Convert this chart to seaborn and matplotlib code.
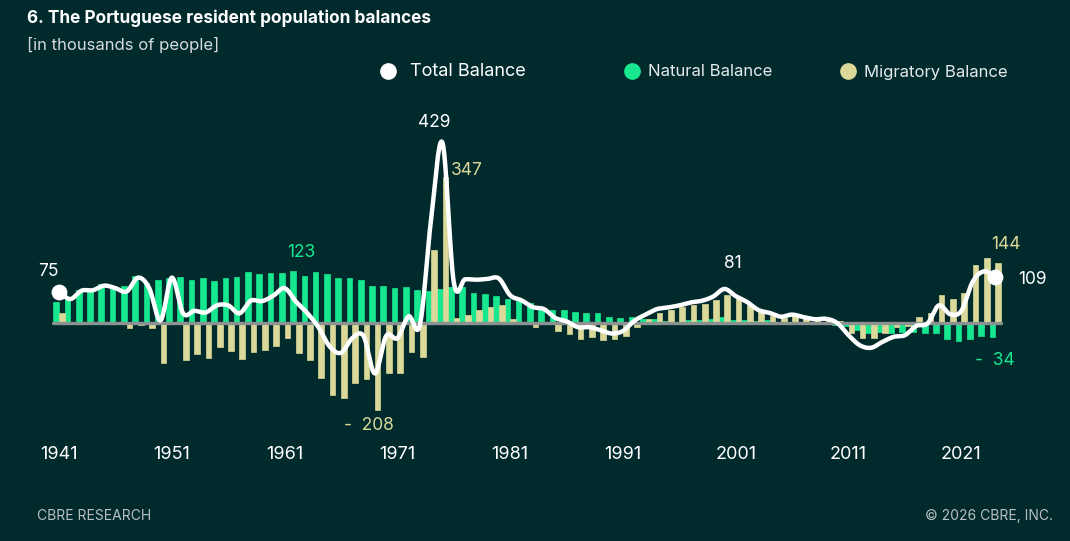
import numpy as np
import pandas as pd
import matplotlib
matplotlib.use("Agg")
import matplotlib.pyplot as plt
import seaborn as sns
from matplotlib.lines import Line2D

# Data (thousands of people)
years = list(range(1941, 2025))
natural = [50, 58, 78, 80, 92, 85, 88, 113, 96, 102,
           108, 110, 103, 108, 100, 108, 109, 121, 116, 119,
           119, 123, 113, 121, 116, 107, 106, 102, 88, 88,
           83, 85, 78, 76, 82, 86, 85, 72, 68, 64,
           57, 53, 48, 36, 30, 31, 27, 24, 23, 14,
           13, 14, 10, 9, 5, 3, 7, 7, 9, 15,
           8, 7, 4, 7, 2, 3, -1, 0, -3, -4,
           -6, -17, -24, -21, -23, -21, -22, -25, -25, -37,
           -43, -39, -32, -34]
migratory = [25, -1, -1, -2, -3, -2, -13, -5, -13, -96,
             0, -87, -74, -83, -58, -66, -86, -68, -64, -54,
             -36, -72, -89, -131, -172, -178, -142, -133, -208, -119,
             -119, -69, -82, 174, 347, 11, 19, 31, 37, 42,
             9, 1, -10, -3, -18, -27, -37, -34, -40, -39,
             -32, -9, 10, 24, 32, 39, 42, 46, 54, 66,
             56, 43, 27, 17, 13, 17, 15, 9, 13, 4,
             -23, -36, -35, -24, -10, -8, 15, 24, 67, 58,
             72, 137, 155, 143]
total = [75, 57, 77, 78, 89, 83, 75, 108, 83, 6,
         108, 23, 29, 25, 42, 42, 23, 53, 52, 65,
         83, 51, 24, -10, -56, -71, -36, -31, -120, -31,
         -36, 16, -4, 250, 429, 97, 104, 103, 105, 106,
         66, 54, 38, 33, 12, 4, -10, -10, -17, -25,
         -19, 5, 20, 33, 37, 42, 49, 53, 63, 81,
         64, 50, 31, 24, 15, 20, 14, 9, 10, 0,
         -29, -53, -59, -45, -33, -29, -7, -1, 42, 21,
         29, 98, 123, 109]
tick_years = [1941, 1951, 1961, 1971, 1981, 1991, 2001, 2011, 2021]

BG = "#012A2D"
GREEN = "#17E88F"
WHEAT = "#DBD99A"
GREY = "#8C9292"

sns.set_theme(style="white")
plt.rcParams["font.family"] = ["Inter", "DejaVu Sans"]

df = pd.DataFrame({
    "Year": years * 2,
    "Value": natural + migratory,
    "Series": ["Natural Balance"] * len(years) + ["Migratory Balance"] * len(years),
})

fig = plt.figure(figsize=(10.7, 5.41), dpi=100, facecolor=BG)
ax = fig.add_axes([40 / 1070, 101 / 541, 980 / 1070, 340 / 541])
ax.set_facecolor(BG)

sns.barplot(data=df, x="Year", y="Value", hue="Series", palette=[GREEN, WHEAT],
            width=1.0, saturation=1, legend=False, linewidth=0, ax=ax)
# slightly fuller bars, like the original rendering
for p in ax.patches:
    p.set_edgecolor(p.get_facecolor())
    p.set_linewidth(0.5)

# smooth total line (cubic hermite through the yearly points)
pos = np.arange(len(total), dtype=float)
vals = np.array(total, dtype=float)
tang = np.gradient(vals)
xs, ys = [], []
for i in range(len(vals) - 1):
    t = np.linspace(0, 1, 25)
    h00 = 2 * t**3 - 3 * t**2 + 1
    h10 = t**3 - 2 * t**2 + t
    h01 = -2 * t**3 + 3 * t**2
    h11 = t**3 - t**2
    xs.append(pos[i] + t)
    ys.append(h00 * vals[i] + h10 * tang[i] + h01 * vals[i + 1] + h11 * tang[i + 1])
ax.plot(np.concatenate(xs), np.concatenate(ys), color="white", lw=3.2,
        solid_capstyle="round", zorder=6)
ax.scatter([pos[0], pos[-1]], [vals[0], vals[-1]], s=130, color="white", zorder=7, linewidth=0)

ax.plot([-0.5, len(years) - 0.5], [0, 0], color=GREY, lw=2.4, zorder=5)

ax.set_xlim(-1.685, 85.2)
ax.set_ylim(-278.6, 531)
ax.set_xticks([years.index(y) for y in tick_years])
ax.set_xticklabels([str(y) for y in tick_years])
ax.tick_params(axis="x", length=0, colors="white", labelsize=13, pad=4)
ax.set_yticks([])
ax.set_xlabel("")
ax.set_ylabel("")
for s in ax.spines.values():
    s.set_visible(False)

# value labels
def label(txt, x, y, dx, dy, color):
    ax.annotate(txt, xy=(x, y), xytext=(dx, dy), textcoords="offset pixels",
                ha="center", va="center", color=color, fontsize=12.5, zorder=8)

label("75", 0, 75, -11, 20, "white")
label("123", 21, 123, 5, 19, GREEN)
label("429", 34, 429, -8, 20, "white")
label("347", 34.25, 347, 21, 7, WHEAT)
label("-  208", 28.25, -208, -9, -15, WHEAT)
label("81", 59, 81, 8, 25, "white")
label("144", 83.25, 144, 8, 18, WHEAT)
label("109", 83, 109, 37, -2, "white")
label("-  34", 82.75, -34, 3, -23, GREEN)

# titles
fig.text(27 / 1070, 1 - 18 / 541, "6. The Portuguese resident population balances",
         color="white", fontsize=12.4, fontweight="bold", va="center", ha="left")
fig.text(27 / 1070, 1 - 45 / 541, "[in thousands of people]",
         color="#D5DADA", fontsize=12, va="center", ha="left")

# legend
legend_items = [("Total Balance", "white", 388), ("Natural Balance", GREEN, 632),
                ("Migratory Balance", WHEAT, 848)]
for name, col, px in legend_items:
    fig.add_artist(Line2D([px / 1070], [1 - 71 / 541], marker="o", markersize=11,
                          color=col, linestyle="none", transform=fig.transFigure))
    fig.text((px + (22 if col == "white" else 16)) / 1070, 1 - 72 / 541, name,
             color="white" if col == "white" else "#E6EAEA",
             fontsize=13 if col == "white" else 12, va="center", ha="left")

# footer
fig.text(37 / 1070, 1 - 516 / 541, "CBRE RESEARCH", color="#B8C0C0", fontsize=10, va="center", ha="left")
fig.text(1053 / 1070, 1 - 516 / 541, "\u00a9 2026 CBRE, INC.", color="#B8C0C0", fontsize=10,
         va="center", ha="right")

fig.savefig("out.png", dpi=100, facecolor=BG)
